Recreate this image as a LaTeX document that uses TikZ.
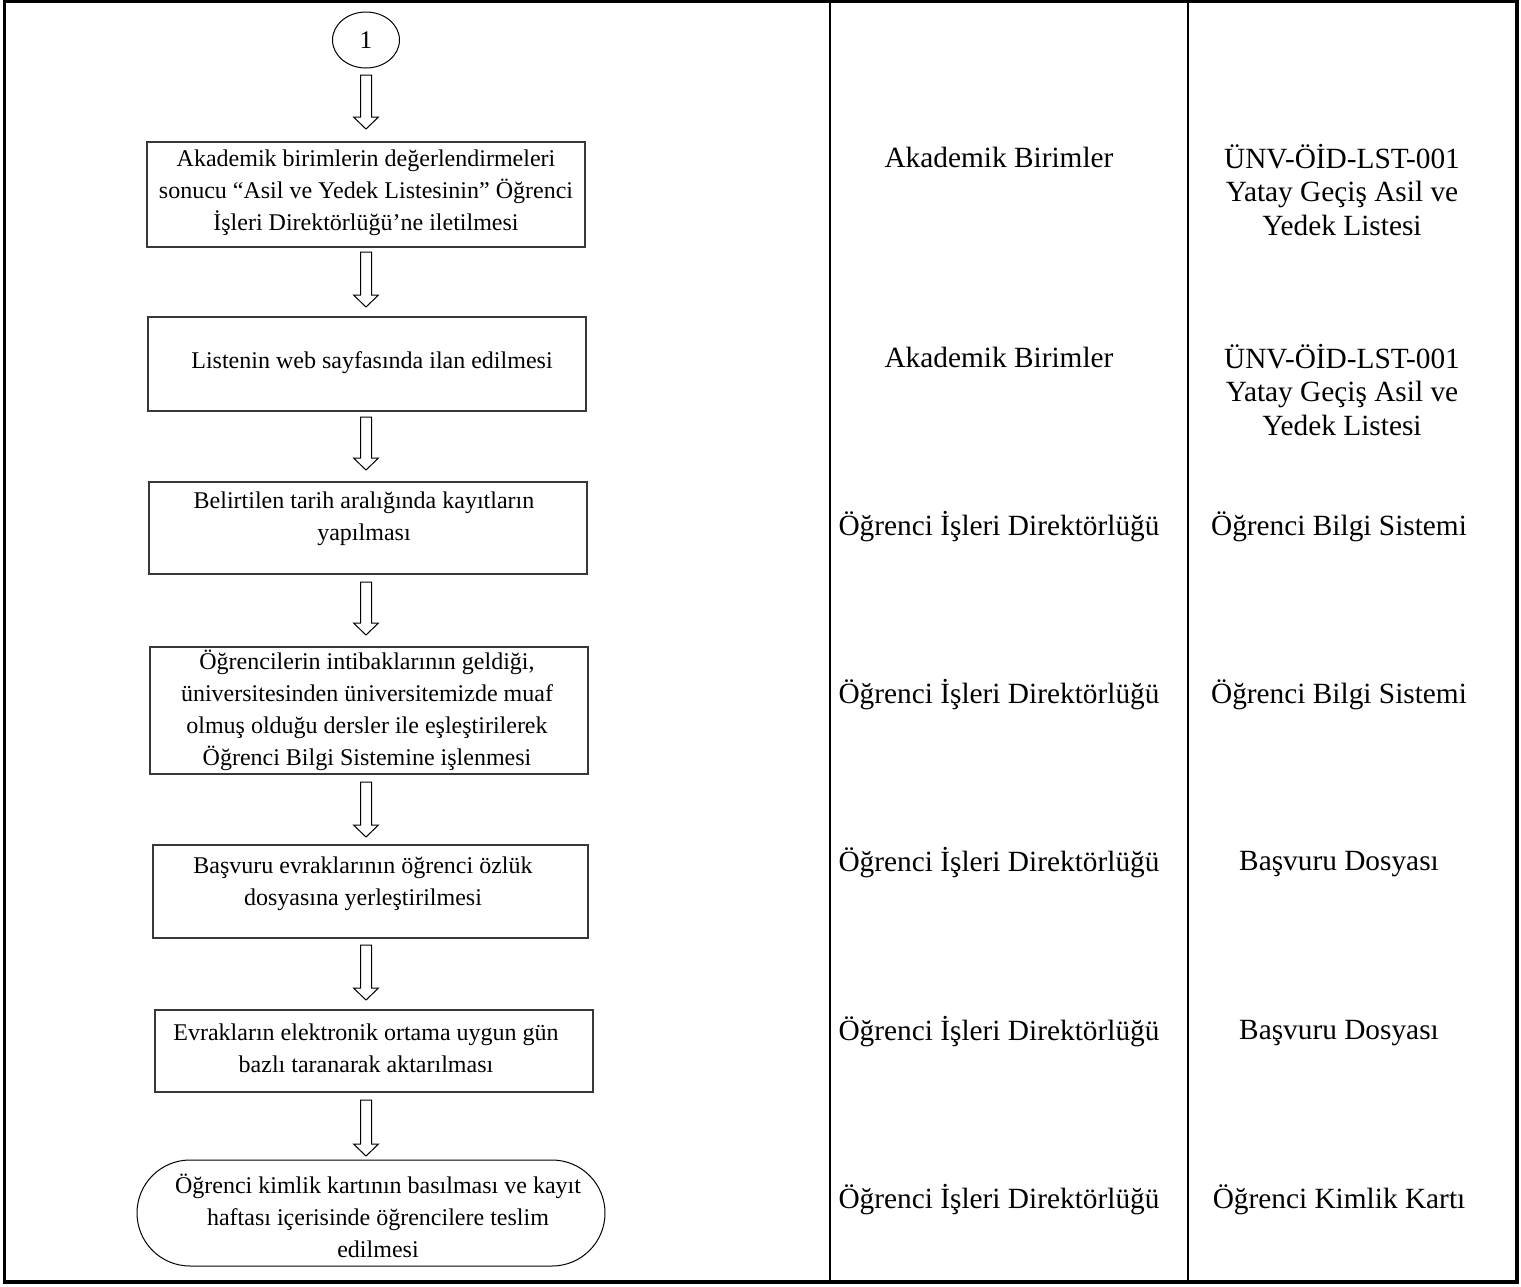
\documentclass[tikz,border=0pt]{standalone}
\usepackage{fontspec}
\setmainfont{Liberation Serif}
\usetikzlibrary{calc,shapes.geometric,shapes.misc,fit}
\newcommand\blockarr[2]{\draw[barrow] (#1) ++(-5.5,0) -- ++(11,0) -- ++(0,#2-12) -- ++(7,0) -- ++(-12.5,12) -- ++(-12.5,-12) -- ++(7,0) -- cycle;}
\begin{document}
\begin{tikzpicture}[x=0.75pt,y=-0.75pt,
  box/.style={draw=black!78, line width=0.9pt, inner sep=0pt},
  oval/.style={ellipse, draw=black, line width=0.75pt, inner sep=0pt},
  terminal/.style={rounded rectangle, draw=black, line width=0.75pt, inner sep=0pt},
  btext/.style={align=center, font=\fontsize{18}{24}\selectfont, inner sep=0pt},
  ctext/.style={align=center, font=\fontsize{22}{25.1}\selectfont, inner sep=0pt},
  frame/.style={line width=2.3pt},
  divider/.style={line width=1.9pt},
  barrow/.style={draw=black, line width=0.75pt, fill=white, line join=miter}]
\useasboundingbox (0,0) rectangle (1521,1286);
\fill[white] (0,0) rectangle (1521,1286);

% table frame
\draw[frame] (4.5,1.5) rectangle (1517,1282);
\draw[divider] (830,1.5) -- (830,1282);
\draw[divider] (1188,1.5) -- (1188,1282);

% start connector
\node[oval, minimum width=50.25pt, minimum height=42pt, font=\fontsize{19}{22}\selectfont] (c0) at (366,40) {1};

% process boxes
\node[box, fit={(147,142) (585,247)}] (b1) {};
\node[box, fit={(148,317) (586,411)}] (b2) {};
\node[box, fit={(149,482) (587,574)}] (b3) {};
\node[box, fit={(150,647) (588,774)}] (b4) {};
\node[box, fit={(153,845) (588,938)}] (b5) {};
\node[box, fit={(155,1010) (593,1092)}] (b6) {};

% end terminal
\node[terminal, minimum width=351pt, minimum height=79.5pt] (e7) at (371,1213) {};

% box texts
\node[btext] (t1) at (366,193) {Akademik birimlerin değerlendirmeleri\\sonucu “Asil ve Yedek Listesinin” Öğrenci\\İşleri Direktörlüğü’ne iletilmesi};
\node[btext] (t2) at (372,363) {Listenin web sayfasında ilan edilmesi};
\node[btext] (t3) at (364,518.5) {Belirtilen tarih aralığında kayıtların\\yapılması};
\node[btext] (t4) at (367,710) {Öğrencilerin intibaklarının geldiği,\\üniversitesinden üniversitemizde muaf\\olmuş olduğu dersler ile eşleştirilerek\\Öğrenci Bilgi Sistemine işlenmesi};
\node[btext] (t5) at (363,883.5) {Başvuru evraklarının öğrenci özlük\\dosyasına yerleştirilmesi};
\node[btext] (t6) at (366,1048) {Evrakların elektronik ortama uygun gün\\bazlı taranarak aktarılması};
\node[btext] (t7) at (378,1216) {Öğrenci kimlik kartının basılması ve kayıt\\haftası içerisinde öğrencilere teslim\\edilmesi};

% block arrows
\coordinate (a1) at (366,75);
\coordinate (a2) at (366,252);
\coordinate (a3) at (366,417);
\coordinate (a4) at (366,582);
\coordinate (a5) at (366,782);
\coordinate (a6) at (366,945);
\coordinate (a7) at (366,1100);
\blockarr{a1}{54}
\blockarr{a2}{55}
\blockarr{a3}{53}
\blockarr{a4}{53}
\blockarr{a5}{55}
\blockarr{a6}{55}
\blockarr{a7}{56}

% responsible units
\node[ctext] (m1) at (999,157) {Akademik Birimler};
\node[ctext] (m2) at (999,357) {Akademik Birimler};
\node[ctext] (m3) at (999,527) {Öğrenci İşleri Direktörlüğü};
\node[ctext] (m4) at (999,695) {Öğrenci İşleri Direktörlüğü};
\node[ctext] (m5) at (999,863) {Öğrenci İşleri Direktörlüğü};
\node[ctext] (m6) at (999,1032) {Öğrenci İşleri Direktörlüğü};
\node[ctext] (m7) at (999,1200) {Öğrenci İşleri Direktörlüğü};

% documents
\node[ctext] (r1) at (1342,190) {ÜNV-ÖİD-LST-001\\Yatay Geçiş Asil ve\\Yedek Listesi};
\node[ctext] (r2) at (1342,390) {ÜNV-ÖİD-LST-001\\Yatay Geçiş Asil ve\\Yedek Listesi};
\node[ctext] (r3) at (1339,527) {Öğrenci Bilgi Sistemi};
\node[ctext] (r4) at (1339,695) {Öğrenci Bilgi Sistemi};
\node[ctext] (r5) at (1339,864) {Başvuru Dosyası};
\node[ctext] (r6) at (1339,1033) {Başvuru Dosyası};
\node[ctext] (r7) at (1339,1200) {Öğrenci Kimlik Kartı};
\end{tikzpicture}
\end{document}
